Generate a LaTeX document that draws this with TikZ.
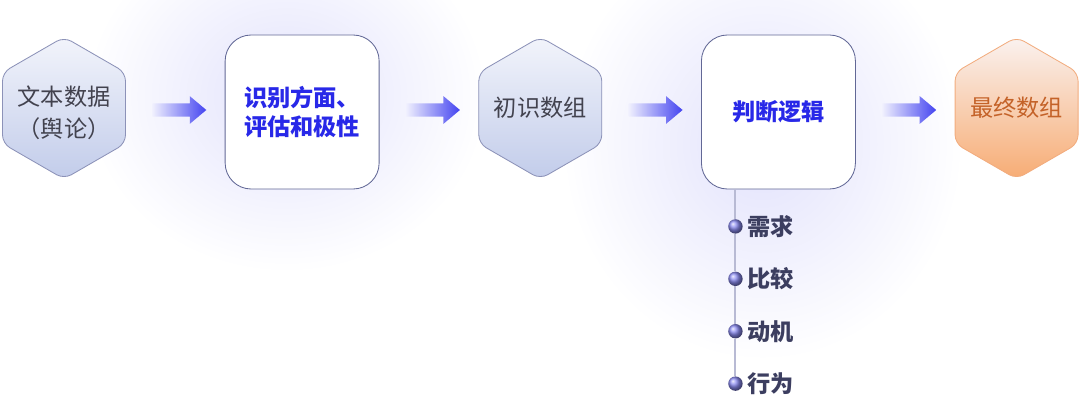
\documentclass[tikz,border=0pt]{standalone}
\usepackage{fontspec}
\newfontfamily\cjk{Noto Sans CJK SC}
\usepackage{xcolor}
\usetikzlibrary{positioning, shapes.geometric, shapes.arrows, calc, fadings, backgrounds}

\definecolor{hexline}{RGB}{140,146,184}
\definecolor{hextop}{RGB}{242,244,251}
\definecolor{hexbot}{RGB}{194,204,234}
\definecolor{hextext}{RGB}{66,66,78}
\definecolor{orline}{RGB}{242,172,126}
\definecolor{ortop}{RGB}{250,242,240}
\definecolor{orbot}{RGB}{247,172,116}
\definecolor{ortext}{RGB}{196,98,40}
\definecolor{boxline}{RGB}{98,104,150}
\definecolor{boxtext}{RGB}{40,40,232}
\definecolor{arrblue}{RGB}{68,68,240}
\definecolor{glow}{RGB}{226,226,252}
\definecolor{itemtext}{RGB}{60,62,96}
\definecolor{stemgray}{RGB}{184,186,212}
\definecolor{dotblue}{RGB}{138,138,240}

\tikzfading[name=glowfade, inner color=transparent!0, outer color=transparent!100]

\begin{document}
\begin{tikzpicture}[
      node distance=2.47cm,
      hexa/.style={regular polygon, regular polygon sides=6, shape border rotate=30, minimum size=3.55cm, inner sep=0pt,
        rounded corners=6pt, draw=hexline, line width=0.6pt, top color=hextop, bottom color=hexbot},
      hexo/.style={hexa, draw=orline, top color=ortop, bottom color=orbot},
      hexlbl/.style={text=hextext, align=center, inner sep=0pt, font=\cjk\fontsize{16.5}{23}\selectfont},
      card/.style={draw=boxline, line width=0.6pt, fill=white, rounded corners=0.65cm, minimum width=3.85cm,
        minimum height=3.85cm, text=boxtext, align=center, font=\cjk\bfseries\fontsize{16.5}{21}\selectfont},
      flow/.style={single arrow, minimum height=1.35cm, minimum width=0.68cm, inner sep=0.16cm,
        single arrow head extend=0.18cm, single arrow tip angle=80, left color=arrblue!8, right color=arrblue},
      dot/.style={circle, minimum size=0.36cm, inner sep=0pt, shading=ball, ball color=dotblue},
      item/.style={text=itemtext, inner sep=0pt, font=\cjk\bfseries\fontsize{16.5}{20}\selectfont},
      stemline/.style={draw=stemgray, line width=1.5pt}
    ]
    \useasboundingbox (0,0) rectangle (27,10.25);

    \node[hexa, label={[hexlbl, yshift=-0.12cm]center:文本数据\\（舆论）}] (hex1) at (1.6,7.55) {};
    \node[card, right=of hex1, yshift=-0.1cm] (box1) {识别方面、\\评估和极性};
    \node[hexa, right=of box1, yshift=0.1cm, label={[hexlbl]center:初识数组}] (hex2) {};
    \node[card, right=of hex2, yshift=-0.1cm] (box2) {判断逻辑};
    \node[hexo, right=of box2, yshift=0.1cm, label={[hexlbl, text=ortext]center:最终数组}] (hex3) {};

    % gradient arrows
    \node[flow] (a1) at ($(hex1.east)!0.5!(box1.west)$) {};
    \node[flow] (a2) at ($(box1.east)!0.5!(hex2.west)$) {};
    \node[flow] (a3) at ($(hex2.east)!0.5!(box2.west)$) {};
    \node[flow] (a4) at ($(box2.east)!0.5!(hex3.west)$) {};

    % list below the logic box
    \coordinate (stem) at ($(box2.south)+(-1.075,0)$);
    \foreach \t [count=\i] in {需求,比较,动机,行为} {
      \node[dot] (d\i) at ($(stem)+(0,{0.385-1.31*\i})$) {};
      \node[item, right=0.1cm of d\i] (t\i) {\t};
    }
    \draw[stemline] (stem) -- (d1);
    \draw[stemline] (d1) -- (d2);
    \draw[stemline] (d2) -- (d3);
    \draw[stemline] (d3) -- (d4);

    \begin{scope}[on background layer]
      \fill[glow, path fading=glowfade] ($(box1.center)+(-0.4,0.4)$) ellipse (5cm and 4.4cm);
      \fill[glow, path fading=glowfade] ($(box2.center)+(-0.4,-0.8)$) ellipse (5cm and 5.4cm);
    \end{scope}
  \end{tikzpicture}
\end{document}
